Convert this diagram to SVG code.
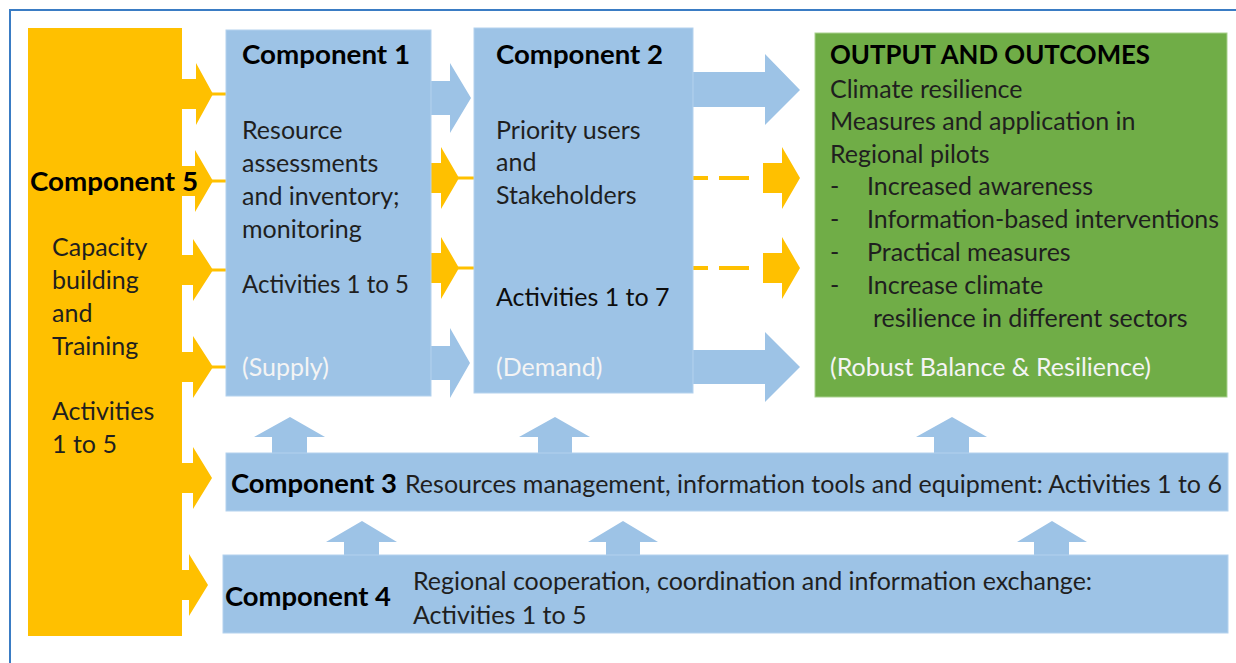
<svg xmlns="http://www.w3.org/2000/svg" width="1236" height="663" viewBox="0 0 1236 663">
<defs>
<style>
.t{font-family:Lato,"Open Sans","Liberation Sans",sans-serif;font-size:25px;fill:#1f1f1f}
.b{font-weight:bold;fill:#000;font-size:26px}
.w{fill:#f4f4f4}
.blue{fill:#9DC3E6}
.org{fill:#FFC000}
.grn{fill:#70AD47}
.ln{stroke:#FFC000;stroke-width:3;fill:none}
.dash{stroke:#FFC000;stroke-width:4;fill:none}
</style>
</defs>
<rect x="0" y="0" width="1236" height="663" fill="#fff"/>
<rect x="10" y="10" width="1240" height="670" fill="none" stroke="#3A7CC4" stroke-width="2"/>

<g id="connectors">
  <!-- C5 -> C1 / C3 / C4 -->
  <polygon class="org" points="182,79 196,79 196,63 213,94 196,125 196,109 182,109"/>
  <line class="ln" x1="212" y1="94" x2="226" y2="94"/>
  <polygon class="org" points="182,166 195,166 195,150 213,181 195,212 195,196 182,196"/>
  <line class="ln" x1="212" y1="181" x2="226" y2="181"/>
  <polygon class="org" points="182,255 193,255 193,239 213,270 193,301 193,285 182,285"/>
  <line class="ln" x1="212" y1="270" x2="226" y2="270"/>
  <polygon class="org" points="182,352 193,352 193,336 213,367 193,398 193,382 182,382"/>
  <line class="ln" x1="212" y1="367" x2="226" y2="367"/>
  <polygon class="org" points="182,463 193,463 193,447 212,478 193,509 193,493 182,493"/>
  <polygon class="org" points="182,570 189,570 189,554 208,585 189,616 189,600 182,600"/>
  <!-- C1 -> C2 blue -->
  <polygon class="blue" points="431,81 450,81 450,63 471,98 450,133 450,115 431,115"/>
  <polygon class="blue" points="431,346 450,346 450,328 470,363 450,398 450,380 431,380"/>
  <!-- C1 -> C2 orange -->
  <polygon class="org" points="431,163 441,163 441,147 459,178 441,209 441,193 431,193"/>
  <line class="ln" x1="458" y1="178" x2="474" y2="178"/>
  <polygon class="org" points="431,253 441,253 441,237 459,268 441,299 441,283 431,283"/>
  <line class="ln" x1="458" y1="268" x2="474" y2="268"/>
  <!-- C2 -> Output blue -->
  <polygon class="blue" points="693,72 765,72 765,54 800,90 765,125 765,107 693,107"/>
  <polygon class="blue" points="693,350 765,350 765,332 800,367 765,402 765,384 693,384"/>
  <!-- C2 -> Output orange dashed -->
  <line class="dash" x1="693" y1="178" x2="708" y2="178"/>
  <line class="dash" x1="719" y1="178" x2="749" y2="178"/>
  <polygon class="org" points="763,163 782,163 782,147 800,178 782,209 782,193 763,193"/>
  <line class="dash" x1="693" y1="268" x2="708" y2="268"/>
  <line class="dash" x1="719" y1="268" x2="749" y2="268"/>
  <polygon class="org" points="763,253 782,253 782,237 800,268 782,299 782,283 763,283"/>
  <!-- C3 -> top row up arrows -->
  <polygon class="blue" points="272,453 272,437 254,437 290,417 325,437 307,437 307,453"/>
  <polygon class="blue" points="538,453 538,437 519,437 555,417 590,437 572,437 572,453"/>
  <polygon class="blue" points="934,453 934,437 916,437 952,417 987,437 969,437 969,453"/>
  <!-- C4 -> C3 up arrows -->
  <polygon class="blue" points="344,555 344,542 326,542 362,521 397,542 379,542 379,555"/>
  <polygon class="blue" points="606,555 606,542 588,542 623,521 658,542 640,542 640,555"/>
  <polygon class="blue" points="1034,555 1034,542 1017,542 1052,521 1087,542 1069,542 1069,555"/>
</g>

<g id="component5">
  <rect class="org" x="28" y="28" width="154" height="608"/>
  <text class="t b" x="30" y="191" textLength="168" lengthAdjust="spacingAndGlyphs">Component 5</text>
  <text class="t" x="52" y="256">Capacity</text>
  <text class="t" x="52" y="289">building</text>
  <text class="t" x="52" y="322">and</text>
  <text class="t" x="52" y="355">Training</text>
  <text class="t" x="52" y="420">Activities</text>
  <text class="t" x="52" y="453">1 to 5</text>
</g>

<g id="component1">
  <rect class="blue" x="226" y="30" width="205" height="366" stroke="#B4D2EE" stroke-width="1"/>
  <text class="t b" x="242" y="64" textLength="168" lengthAdjust="spacingAndGlyphs">Component 1</text>
  <text class="t" x="242" y="139">Resource</text>
  <text class="t" x="242" y="172">assessments</text>
  <text class="t" x="242" y="205">and inventory;</text>
  <text class="t" x="242" y="238">monitoring</text>
  <text class="t" x="242" y="293" textLength="167" lengthAdjust="spacingAndGlyphs">Activities 1 to 5</text>
  <text class="t w" x="242" y="376">(Supply)</text>
</g>

<g id="component2">
  <rect class="blue" x="474" y="28" width="219" height="365" stroke="#B4D2EE" stroke-width="1"/>
  <text class="t b" x="496" y="64" textLength="167" lengthAdjust="spacingAndGlyphs">Component 2</text>
  <text class="t" x="496" y="139">Priority users</text>
  <text class="t" x="496" y="171">and</text>
  <text class="t" x="496" y="204">Stakeholders</text>
  <text class="t" x="496" y="306" style="fill:#0d0d0d">Activities 1 to 7</text>
  <text class="t w" x="496" y="376">(Demand)</text>
</g>

<g id="outputs">
  <rect class="grn" x="815" y="33" width="412" height="364" stroke="#A9D18E" stroke-width="1"/>
  <text class="t b" x="830" y="64" textLength="320" lengthAdjust="spacingAndGlyphs">OUTPUT AND OUTCOMES</text>
  <text class="t" x="830" y="98">Climate resilience</text>
  <text class="t" x="830" y="130">Measures and application in</text>
  <text class="t" x="830" y="163">Regional pilots</text>
  <text class="t" x="830" y="195">-</text>
  <text class="t" x="867" y="195">Increased awareness</text>
  <text class="t" x="830" y="228">-</text>
  <text class="t" x="867" y="228" textLength="352" lengthAdjust="spacingAndGlyphs">Information-based interventions</text>
  <text class="t" x="830" y="261">-</text>
  <text class="t" x="867" y="261">Practical measures</text>
  <text class="t" x="830" y="294">-</text>
  <text class="t" x="867" y="294">Increase climate</text>
  <text class="t" x="873" y="327">resilience in different sectors</text>
  <text class="t w" x="830" y="376">(Robust Balance &amp; Resilience)</text>
</g>

<g id="component3">
  <rect class="blue" x="226" y="453" width="1002" height="58" stroke="#B4D2EE" stroke-width="1"/>
  <text class="t b" x="231" y="493" textLength="166" lengthAdjust="spacingAndGlyphs">Component 3</text>
  <text class="t" x="405" y="493" textLength="817" lengthAdjust="spacingAndGlyphs">Resources management, information tools and equipment: Activities 1 to 6</text>
</g>

<g id="component4">
  <rect class="blue" x="223" y="555" width="1005" height="78" stroke="#B4D2EE" stroke-width="1"/>
  <text class="t b" x="225" y="606" textLength="166" lengthAdjust="spacingAndGlyphs">Component 4</text>
  <text class="t" x="413" y="590">Regional cooperation, coordination and information exchange:</text>
  <text class="t" x="413" y="624">Activities 1 to 5</text>
</g>
</svg>
